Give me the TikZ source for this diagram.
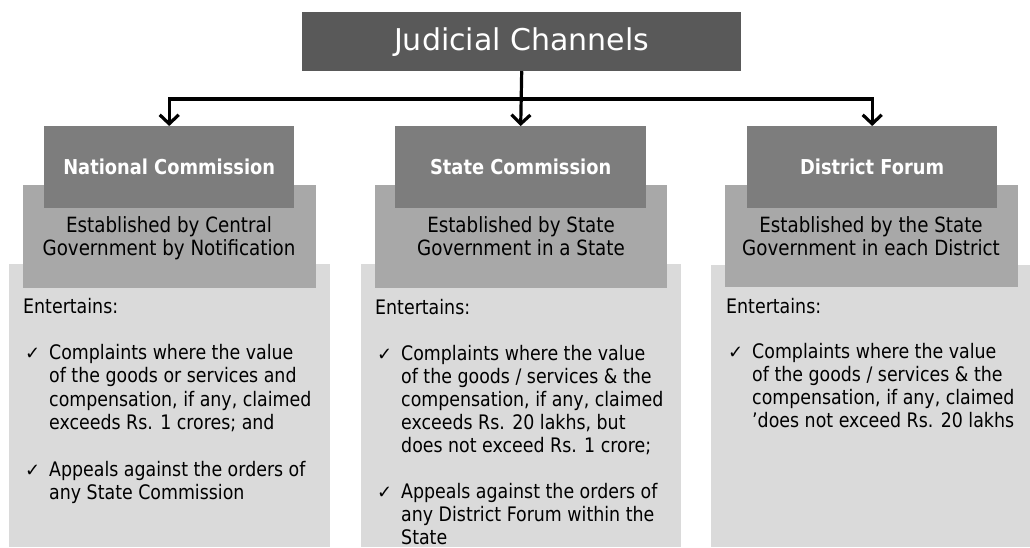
\documentclass[tikz,border=0pt]{standalone}
\usepackage{fontspec}
\setmainfont{DejaVu Sans}[FakeStretch=0.87]
\newfontfamily\chkfont{DejaVu Sans}
\newfontfamily\titlefont{DejaVu Sans}
\usetikzlibrary{arrows.meta}
\definecolor{titlegray}{RGB}{89,89,89}
\definecolor{headgray}{RGB}{125,125,125}
\definecolor{midgray}{RGB}{168,168,168}
\definecolor{lowgray}{RGB}{218,218,218}
\newcommand{\chk}{\hspace*{2pt}\makebox[24pt][l]{\chkfont\fontsize{18}{18}\selectfont ✓}}
\newcommand{\ind}{\hspace*{26pt}}
\tikzset{
  panel/.style={draw=none, inner sep=0pt, anchor=north west},
  titlebox/.style={panel, fill=titlegray, text=white, font=\titlefont\fontsize{30}{32}\selectfont},
  headbox/.style={panel, fill=headgray, text=white, font=\bfseries\fontsize{20.5}{22}\selectfont},
  midbox/.style={panel, fill=midgray},
  lowbox/.style={panel, fill=lowgray},
  esttext/.style={anchor=base, align=center, inner sep=0pt, font=\fontsize{21}{22.5}\selectfont},
  bodytext/.style={anchor=base west, align=left, inner sep=0pt, font=\fontsize{20}{23.3}\selectfont},
  conn/.style={line width=3.2pt, line join=miter, -{Straight Barb[length=9pt,width=19pt,line width=3.2pt]}}
}
\begin{document}
\begin{tikzpicture}[x=1pt,y=-1pt]
\useasboundingbox[fill=white] (0,0) rectangle (1030,547);
% bottom panels
\node[lowbox, minimum width=321pt, minimum height=283pt] (natL) at (9,264) {};
\node[lowbox, minimum width=320pt, minimum height=283pt] (staL) at (361,264) {};
\node[lowbox, minimum width=319pt, minimum height=282pt] (disL) at (711,265) {};
% middle panels
\node[midbox, minimum width=293pt, minimum height=103pt] (natM) at (23,185) {};
\node[midbox, minimum width=292pt, minimum height=103pt] (staM) at (375,185) {};
\node[midbox, minimum width=293pt, minimum height=102pt] (disM) at (725,185) {};
% headers
\node[headbox, minimum width=250pt, minimum height=82pt] (natH) at (44,126) {National Commission};
\node[headbox, minimum width=251pt, minimum height=82pt] (staH) at (395,126) {State Commission};
\node[headbox, minimum width=250pt, minimum height=82pt] (disH) at (747,126) {District Forum};
% title
\node[titlebox, minimum width=439pt, minimum height=59pt] (title) at (302,12) {Judicial Channels};
% established texts (anchored at the baseline of their last line)
\node[esttext] (natE) at (169,255) {Established by Central\\Government by Notification};
\node[esttext] (staE) at (521,255) {Established by State\\Government in a State};
\node[esttext] (disE) at (871,255) {Established by the State\\Government in each District};
% body texts (anchored at the baseline of their last line)
\node[bodytext] (natB) at (23,499.4) {Entertains:\\[23.3pt]
\chk Complaints where the value\\
\ind of the goods or services and\\
\ind compensation, if any, claimed\\
\ind exceeds Rs. 1 crores; and\\[23.3pt]
\chk Appeals against the orders of\\
\ind any State Commission};
\node[bodytext, font=\fontsize{20}{23}\selectfont] (staB) at (375,544) {Entertains:\\[23pt]
\chk Complaints where the value\\
\ind of the goods / services \& the\\
\ind compensation, if any, claimed\\
\ind exceeds Rs. 20 lakhs, but\\
\ind does not exceed Rs. 1 crore;\\[23pt]
\chk Appeals against the orders of\\
\ind any District Forum within the\\
\ind State};
\node[bodytext, font=\fontsize{20}{23}\selectfont] (disB) at (726,427) {Entertains:\\[22pt]
\chk Complaints where the value\\
\ind of the goods / services \& the\\
\ind compensation, if any, claimed\\
\ind 'does not exceed Rs. 20 lakhs};
% connectors
\coordinate (j) at (title.south |- 0,99);
\draw[line width=3.2pt] (title.south) -- (j);
\draw[conn] (j) -| (natH.north);
\draw[conn] (j) -| (disH.north);
\draw[conn] (title.south) -- (staH.north);
\end{tikzpicture}
\end{document}
